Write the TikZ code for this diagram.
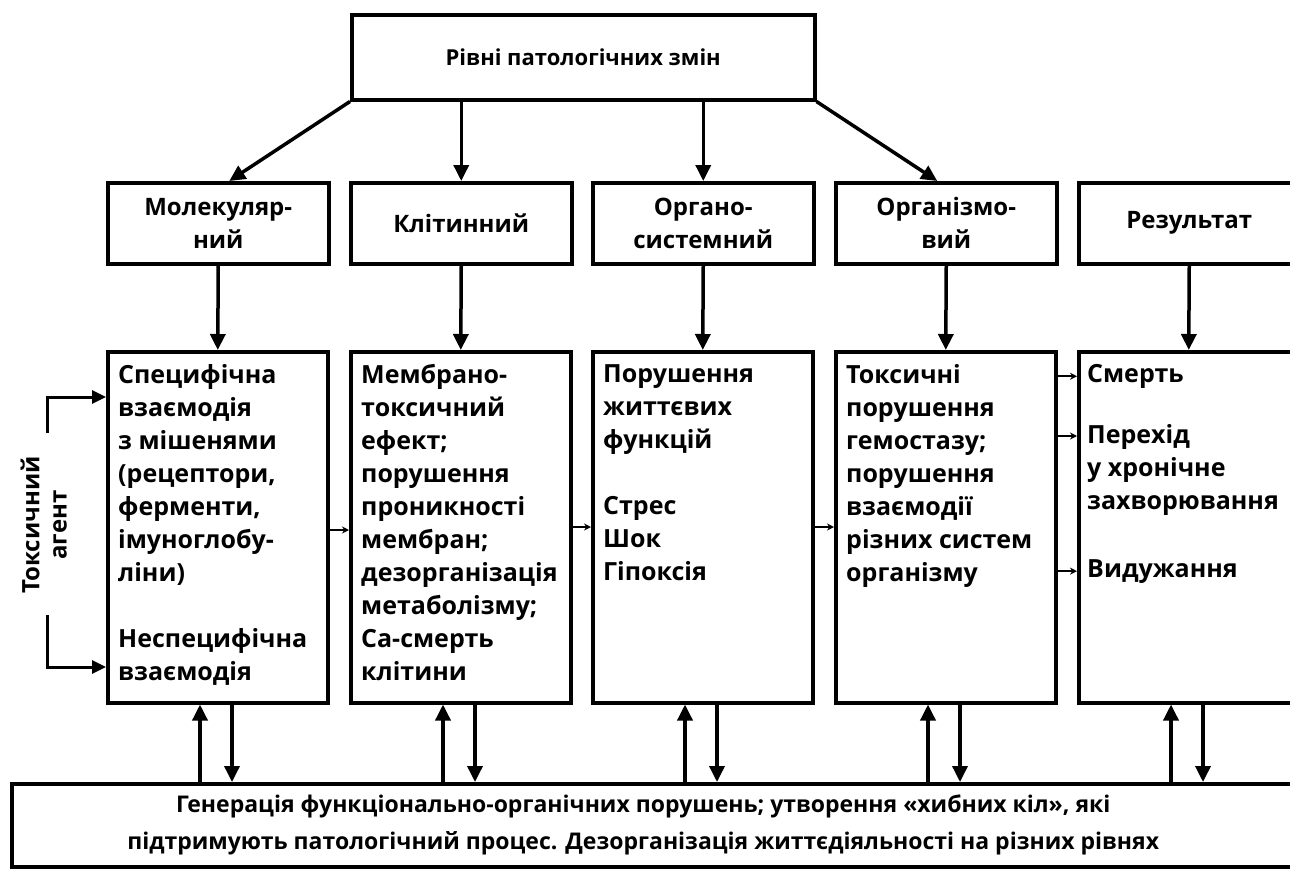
\documentclass[tikz,border=0pt]{standalone}
\usepackage{fontspec}
\setmainfont{Open Sans}
\usetikzlibrary{arrows.meta}
\begin{document}
\begin{tikzpicture}[x=1pt,y=-1pt,
  box/.style={draw, line width=3.5pt, inner sep=0pt, anchor=north west},
  lvl/.style={box, minimum width=221pt, minimum height=81pt},
  col/.style={box, minimum width=220pt, minimum height=351pt},
  txt/.style={anchor=north west, inner sep=0pt, align=left, font=\bfseries\fontsize{25}{33}\selectfont},
  ctx/.style={align=center, inner sep=0pt, font=\bfseries\fontsize{24}{33}\selectfont},
  arr/.style={line width=3.5pt, -{Triangle[length=16pt,width=15pt]}},
  sarr/.style={line width=2pt, -{Stealth[length=7pt,width=7pt]}}
]
\useasboundingbox (0,0) rectangle (1290,868);
% top box
\node[box, minimum width=463pt, minimum height=85pt] (top) at (350,13) {};
\node[ctx, font=\bfseries\fontsize{22}{28}\selectfont] (toptxt) at (top.center) {Рівні патологічних змін};
% level boxes
\node[lvl] (a1) at (106,181) {};
\node[lvl] (a2) at (349,181) {};
\node[lvl] (a3) at (591,181) {};
\node[lvl] (a4) at (834,181) {};
\node[lvl] (a5) at (1077,181) {};
\node[ctx] (a1t) at (a1.center) {Молекуляр-\\ний};
\node[ctx] (a2t) at (a2.center) {Клітинний};
\node[ctx] (a3t) at (a3.center) {Органо-\\системний};
\node[ctx] (a4t) at (a4.center) {Організмо-\\вий};
\node[ctx] (a5t) at (a5.center) {Результат};
% column boxes
\node[col] (r1) at (106,350) {};
\node[col] (r2) at (349,350) {};
\node[col] (r3) at (591,350) {};
\node[col] (r4) at (834,350) {};
\node[col] (r5) at (1077,350) {};
\node[txt] (r1t) at ([xshift=12pt,yshift=-14pt]r1.north west) {Специфічна\\взаємодія\\з мішенями\\(рецептори,\\ферменти,\\імуноглобу-\\ліни)\\[33pt]Неспецифічна\\взаємодія};
\node[txt] (r2t) at ([xshift=12pt,yshift=-14pt]r2.north west) {Мембрано-\\токсичний\\ефект;\\порушення\\проникності\\мембран;\\дезорганізація\\метаболізму;\\Са-смерть\\клітини};
\node[txt] (r3t) at ([xshift=12pt,yshift=-14pt]r3.north west) {Порушення\\життєвих\\функцій\\[33pt]Стрес\\Шок\\Гіпоксія};
\node[txt] (r4t) at ([xshift=12pt,yshift=-14pt]r4.north west) {Токсичні\\порушення\\гемостазу;\\порушення\\взаємодії\\різних систем\\організму};
\node[txt] (r5a) at ([xshift=10pt,yshift=-14pt]r5.north west) {Смерть};
\node[txt] (r5b) at ([xshift=10pt,yshift=-74pt]r5.north west) {Перехід\\у хронічне\\захворювання};
\node[txt] (r5c) at ([xshift=10pt,yshift=-209pt]r5.north west) {Видужання};
% bottom box
\node[box, minimum width=1287pt, minimum height=83pt] (bot) at (10,782) {};
\node[ctx, font=\bfseries\fontsize{23}{37}\selectfont] (bott) at ([xshift=-12pt]bot.center) {Генерація функціонально-органічних порушень; утворення «хибних кіл», які\\підтримують патологічний процес. Дезорганізація життєдіяльності на різних рівнях};
% toxic agent
\node[font=\bfseries\fontsize{24}{28}\selectfont, rotate=90, inner sep=0pt] (tox) at (30,525) {Токсичний};
\node[font=\bfseries\fontsize{24}{28}\selectfont, rotate=90, inner sep=0pt] (agt) at (60,525) {агент};
\coordinate (k1) at (47,433);
\coordinate (k2) at (47,615);
\coordinate (ka) at (47,397);
\coordinate (kb) at (47,667);
\draw[line width=3pt, -{Triangle[length=14pt,width=13pt]}] (k1) -- (ka) -- (r1.west |- ka);
\draw[line width=3pt, -{Triangle[length=14pt,width=13pt]}] (k2) -- (kb) -- (r1.west |- kb);
% top arrows
\draw[arr] (top.south west) -- ([xshift=11pt]a1.north);
\draw[arr] (top.south -| a2.north) -- (a2.north);
\draw[arr] (top.south -| a3.north) -- (a3.north);
\draw[arr] (top.south east) -- ([xshift=-9pt]a4.north);
% level to column
\foreach \i in {1,...,5} {\draw[arr] (a\i.south) -- (r\i.north);}
% horizontal small arrows
\coordinate (h1) at (0,530);
\coordinate (h2) at (0,527);
\draw[sarr] (r1.east |- h1) -- (r2.west |- h1);
\draw[sarr] (r2.east |- h2) -- (r3.west |- h2);
\draw[sarr] (r3.east |- h2) -- (r4.west |- h2);
\draw[sarr] (r4.east |- r5a.west) -- (r5.west |- r5a.west);
\draw[sarr] (r4.east |- r5b.north) ++(0,12) coordinate (hb) (r4.east |- hb) -- (r5.west |- hb);
\draw[sarr] (r4.east |- r5c.west) -- (r5.west |- r5c.west);
% up/down arrows
\foreach \i in {1,...,5} {
  \coordinate (u\i) at ([xshift=94pt]r\i.south west);
  \coordinate (d\i) at ([xshift=126pt]r\i.south west);
  \draw[arr] (u\i |- bot.north) -- (u\i);
  \draw[arr] (d\i) -- (d\i |- bot.north);
}
\end{tikzpicture}
\end{document}
